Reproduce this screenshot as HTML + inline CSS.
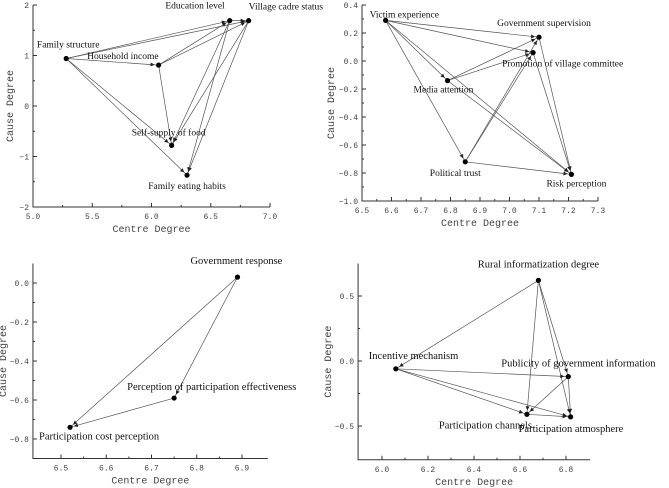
<!DOCTYPE html>
<html><head><meta charset="utf-8"><style>
body{margin:0;background:#fff;}
svg{display:block;}
.tk{font-family:"Liberation Mono",monospace;font-size:8px;fill:#444;}
.ti{font-family:"Liberation Mono",monospace;font-size:10px;fill:#444;}
.lb{font-family:"Liberation Serif",serif;font-size:9.5px;fill:#111;}
</style></head><body>
<svg id="s" width="669" height="488" xmlns="http://www.w3.org/2000/svg"></svg>
<script>
// Chart 1
const c1Names=["Family structure","Household income","Education  level","Village cadre status","Self-supply of food","Family eating habits"];
const c1X=[5.28,6.06,6.66,6.82,6.17,6.30];
const c1Y=[0.94,0.81,1.69,1.69,-0.78,-1.37];
const c1Edges=[[0,2],[0,3],[0,1],[0,4],[0,5],[1,2],[1,3],[1,4],[2,4],[2,5],[3,4],[3,5],[2,3]];
const c1XT=[5.0,5.5,6.0,6.5,7.0];const c1YT=[-2,-1,0,1,2];
// Chart 2
const c2Names=["Victim experience","Government supervision","Promotion of village committee","Media attention","Political trust","Risk perception"];
const c2X=[6.58,7.10,7.08,6.79,6.85,7.21];
const c2Y=[0.29,0.17,0.06,-0.14,-0.72,-0.81];
const c2Edges=[[0,1],[0,2],[0,3],[0,4],[0,5],[3,1],[3,2],[4,1],[4,2],[4,5],[1,5],[2,5],[3,5]];
const c2XT=[6.5,6.6,6.7,6.8,6.9,7.0,7.1,7.2,7.3];const c2YT=[-1.0,-0.8,-0.6,-0.4,-0.2,0.0,0.2,0.4];
// Chart 3
const c3Names=["Government response","Perception of participation effectiveness","Participation cost perception"];
const c3X=[6.89,6.75,6.52];
const c3Y=[0.03,-0.59,-0.74];
const c3Edges=[[0,2],[0,1],[1,2]];
const c3XT=[6.5,6.6,6.7,6.8,6.9];const c3YT=[-0.8,-0.6,-0.4,-0.2,0.0];
// Chart 4
const c4Names=["Rural informatization degree","Incentive mechanism","Publicity of government information","Participation channels","Participation atmosphere"];
const c4X=[6.68,6.06,6.81,6.63,6.82];
const c4Y=[0.62,-0.06,-0.12,-0.41,-0.43];
const c4Edges=[[0,1],[0,3],[0,4],[0,2],[1,2],[1,3],[1,4],[2,3],[3,4],[2,4]];
const c4XT=[6.0,6.2,6.4,6.6,6.8];const c4YT=[-0.5,0.0,0.5];

const svg=document.getElementById('s');const NS='http://www.w3.org/2000/svg';
function mk(t,a,p){const e=document.createElementNS(NS,t);for(const k in a)e.setAttribute(k,a[k]);(p||svg).appendChild(e);return e;}
function chart(cfg){
 const g=mk('g',{});
 
 
 const sx=v=>cfg.px0+(v-cfg.x0)/(cfg.x1-cfg.x0)*(cfg.px1-cfg.px0);
 const sy=v=>cfg.py0+(v-cfg.y0)/(cfg.y1-cfg.y0)*(cfg.py1-cfg.py0);
 const L=sx(cfg.ax0),R=sx(cfg.ax1),T=sy(cfg.ay1),B=sy(cfg.ay0);
 const ax=mk('path',{d:`M${L},${T}V${B}H${R}`,stroke:'#333',fill:'none','stroke-width':1},g);
 
 
 cfg.xt.forEach((v,i)=>{const x=sx(v);mk('line',{x1:x,x2:x,y1:B,y2:B-4,stroke:'#333'},g);
  if(i<cfg.xt.length-1){const m=sx(v+(cfg.xt[1]-cfg.xt[0])/2);mk('line',{x1:m,x2:m,y1:B,y2:B-2,stroke:'#333'},g);}
  const t=mk('text',{x:x,y:B+12,'text-anchor':'middle',class:'tk'},g);t.textContent=v.toFixed(1);
  
  });
 cfg.yt.forEach((v,i)=>{const y=sy(v);mk('line',{x1:L,x2:L+4,y1:y,y2:y,stroke:'#333'},g);
  if(i<cfg.yt.length-1){const m=sy(v+(cfg.yt[1]-cfg.yt[0])/2);mk('line',{x1:L,x2:L+2,y1:m,y2:m,stroke:'#333'},g);}
  const t=mk('text',{x:L-4,y:y+3,'text-anchor':'end',class:'tk'},g);t.textContent=cfg.yfmt(v);
  
  });
 const xt=mk('text',{x:(L+R)/2,y:B+25,'text-anchor':'middle',class:'ti'},g);xt.textContent='Centre Degree';
 
 
 const yx=L-cfg.yoff,yy=(T+B)/2;
 const yt=mk('text',{x:yx,y:yy,'text-anchor':'middle',class:'ti',transform:`rotate(-90 ${yx} ${yy})`},g);yt.textContent='Cause Degree';
 
 
 cfg.edges.forEach(([a,b])=>{const x1=sx(cfg.X[a]),y1=sy(cfg.Y[a]),x2=sx(cfg.X[b]),y2=sy(cfg.Y[b]);
  const l=mk('line',{x1,y1,x2,y2,stroke:'#555','stroke-width':0.7},g);
  
  
  const dx=x2-x1,dy=y2-y1,d=Math.hypot(dx,dy),ux=dx/d,uy=dy/d;const tx=x2-ux*4,ty=y2-uy*4;
  mk('path',{d:`M${tx},${ty}L${tx-ux*4-uy*2},${ty-uy*4+ux*2}L${tx-ux*4+uy*2},${ty-uy*4-ux*2}Z`,fill:'#222'},g);});
 cfg.names.forEach((n,i)=>{const x=sx(cfg.X[i]),y=sy(cfg.Y[i]);
  const c=mk('circle',{cx:x,cy:y,r:2.6,fill:'#000'},g);
  
  
  const o=cfg.lab[i];const t=mk('text',{x:x+o[0],y:y+o[1],'text-anchor':o[2]||'middle',class:'lb',style:cfg.fs?`font-size:${cfg.fs}px`:''},g);t.textContent=n;
  
  });
}
const f1=v=>v<0?'\u2212'+Math.abs(v):String(v);
const f2=v=>(v<0?'\u2212':'')+Math.abs(v).toFixed(1);
chart({name:'chart-1',yoff:20,x0:5,x1:7,px0:33,px1:270,y0:-2,y1:2,py0:207,py1:5,ax0:5,ax1:7,ay0:-2,ay1:2,xt:c1XT,yt:c1YT,yfmt:f1,
 X:c1X,Y:c1Y,names:c1Names,edges:c1Edges,lab:[[2,-11],[0,-6,'end'],[-5,-12,'end'],[0,-11,'start'],[-3,-10],[0,14]]});
chart({name:'chart-2',yoff:28,x0:6.5,x1:7.3,px0:362,px1:598,y0:-1,y1:0.4,py0:201,py1:5,ax0:6.5,ax1:7.3,ay0:-1,ay1:0.4,xt:c2XT,yt:c2YT,yfmt:f2,
 X:c2X,Y:c2Y,names:c2Names,edges:c2Edges,lab:[[-16,-3,'start'],[5,-11],[-31,14,'start'],[-34,12,'start'],[-10,14],[-25,12,'start']]});
chart({name:'chart-3',yoff:27,x0:6.5,x1:6.9,px0:61,px1:242,y0:-0.8,y1:0,py0:439,py1:283,ax0:6.438,ax1:6.957,ay0:-0.9,ay1:0.1,xt:c3XT,yt:c3YT,yfmt:f2,fs:10.5,
 X:c3X,Y:c3Y,names:c3Names,edges:c3Edges,lab:[[-47,-13,'start'],[-47,-8,'start'],[-31,12,'start']]});
chart({name:'chart-4',yoff:27,x0:6.0,x1:6.8,px0:382,px1:566,y0:-0.5,y1:0.5,py0:426,py1:296,ax0:5.896,ax1:6.905,ay0:-0.76,ay1:0.75,xt:c4XT,yt:c4YT,yfmt:f2,fs:10.5,
 X:c4X,Y:c4Y,names:c4Names,edges:c4Edges,lab:[[0,-13],[-27,-10,'start'],[-67,-10,'start'],[-88,14,'start'],[-52,15,'start']]});
</script>
</body></html>
